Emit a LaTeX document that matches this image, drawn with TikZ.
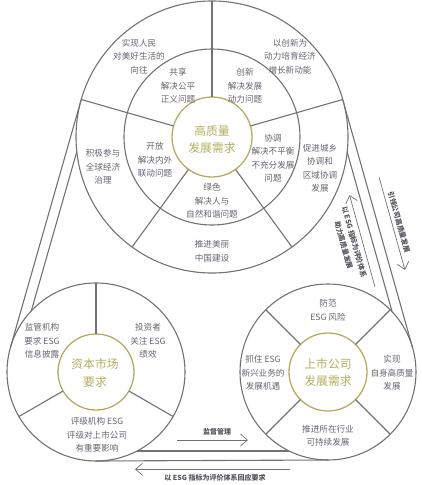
\documentclass[tikz,border=0pt]{standalone}
\usepackage{fontspec}
\setmainfont{Noto Sans CJK SC}
\usetikzlibrary{arrows.meta}
\definecolor{linegray}{HTML}{727272}
\definecolor{txt}{HTML}{67626F}
\definecolor{olive}{HTML}{B3AE5E}
\definecolor{lbl}{HTML}{55545C}
\begin{document}
\begin{tikzpicture}[x=1pt,y=1pt,
  ring/.style={draw=linegray,line width=1.1pt},
  hub/.style={draw=olive,line width=1.3pt},
  body/.style={text=txt,align=center,font=\fontsize{8.6}{13.5}\selectfont,inner sep=0pt},
  core/.style={text=olive,align=center,font=\fontsize{11.8}{17.5}\selectfont,inner sep=0pt},
  flow/.style={draw=linegray,line width=0.7pt,-{Straight Barb[length=7pt,width=12pt,line width=0.7pt]}},
  tag/.style={text=lbl,font=\bfseries\fontsize{7}{11}\selectfont,align=center,inner sep=0pt}]

\useasboundingbox (0,0) rectangle (421,-485);

% centres
\coordinate (A) at (212,-137);
\coordinate (B) at (96,-372);
\coordinate (C) at (328,-372);

% ---------- top circle ----------
\draw[ring] (A) circle (136);
\draw[ring] (A) circle (88);
\draw[hub] (A) circle (40);
\foreach \a in {16,90,164,234,306}
  \draw[ring] ([shift={(A)}]\a:40) -- ([shift={(A)}]\a:136);

% ---------- bottom-left circle ----------
\draw[ring] (B) circle (89);
\draw[hub] (B) circle (38);
\foreach \a in {90,210,330}
  \draw[ring] ([shift={(B)}]\a:38) -- ([shift={(B)}]\a:89);

% ---------- bottom-right circle ----------
\draw[ring] (C) circle (88);
\draw[hub] (C) circle (39);
\foreach \a in {45,135,225,315}
  \draw[ring] ([shift={(C)}]\a:39) -- ([shift={(C)}]\a:88);

% ---------- bands ----------
\coordinate (l1a) at (81.2,-99.7);  \coordinate (l1b) at (10.4,-347.6);
\coordinate (l2a) at (76.8,-151.6); \coordinate (l2b) at (31.3,-310.9);
\coordinate (r1a) at (342.9,-100.2); \coordinate (r1b) at (412.7,-348.2);
\coordinate (r2a) at (347.2,-152.2); \coordinate (r2b) at (392.1,-311.7);
\coordinate (b1a) at (96,-461);  \coordinate (b1b) at (328,-460);
\coordinate (b2a) at (137,-451); \coordinate (b2b) at (289.2,-451);
\draw[ring] (l1a) -- (l1b);
\draw[ring] (l2a) -- (l2b);
\draw[ring] (r1a) -- (r1b);
\draw[ring] (r2a) -- (r2b);
\draw[ring] (b1a) -- (b1b);
\draw[ring] (b2a) -- (b2b);

% ---------- texts top circle ----------
\node[core] (hq) at (212,-139.5) {高质量\\发展需求};
\node[body] (t1) at (139,-56.5) {实现人民\\对美好生活的\\向往};
\node[body] (t2) at (178,-86) {共享\\解决公平\\正义问题};
\node[body] (t3) at (245,-86) {创新\\解决发展\\动力问题};
\node[body] (t4) at (290,-56.5) {以创新为\\动力培育经济\\增长新动能};
\node[body] (t5) at (155,-160) {开放\\解决内外\\联动问题};
\node[body] (t6) at (103,-167) {积极参与\\全球经济\\治理};
\node[body] (t7) at (273,-158) {协调\\解决不平衡\\不充分发展\\问题};
\node[body] (t8) at (320,-168) {促进城乡\\协调和\\区域协调\\发展};
\node[body] (t9) at (212,-201) {绿色\\解决人与\\自然和谐问题};
\node[body] (t10) at (212,-251) {推进美丽\\中国建设};

% ---------- texts bottom-left ----------
\node[core] (cm) at (95,-373) {资本市场\\要求};
\node[body] (c1) at (42,-341) {监管机构\\要求 ESG\\信息披露};
\node[body] (c2) at (148,-341) {投资者\\关注 ESG\\绩效};
\node[body] (c3) at (97,-435) {评级机构 ESG\\评级对上市公司\\有重要影响};

% ---------- texts bottom-right ----------
\node[core] (lc) at (328,-372.5) {上市公司\\发展需求};
\node[body] (d1t) at (328,-310) {防范\\ESG 风险};
\node[body] (d2t) at (263,-373) {抓住 ESG\\新兴业务的\\发展机遇};
\node[body] (d3t) at (392,-373) {实现\\自身高质量\\发展};
\node[body] (d4t) at (328,-435.5) {推进所在行业\\可持续发展};

% ---------- arrows ----------
\coordinate (dn1) at (379,-177); \coordinate (dn2) at (405,-270);
\coordinate (up1) at (375,-287); \coordinate (up2) at (349.5,-195);
\coordinate (sv1) at (177,-440); \coordinate (sv2) at (248,-440);
\coordinate (rp1) at (290,-469.3); \coordinate (rp2) at (135,-469.3);
\draw[flow] (dn1) -- (dn2);
\draw[flow] (up1) -- (up2);
\draw[flow] (sv1) -- (sv2);
\draw[flow] (rp1) -- (rp2);
\node[tag,rotate=-74.3] (lead) at (399,-222) {引领公司高质量发展};
\node[tag,rotate=-74.3] (assist) at (349,-243.7) {以 ESG 指标为评价体系\\助力高质量发展};
\node[tag] (sup) at (217,-431.7) {监督管理};
\node[tag] (resp) at (215,-478.3) {以 ESG 指标为评价体系回应要求};
\end{tikzpicture}
\end{document}
